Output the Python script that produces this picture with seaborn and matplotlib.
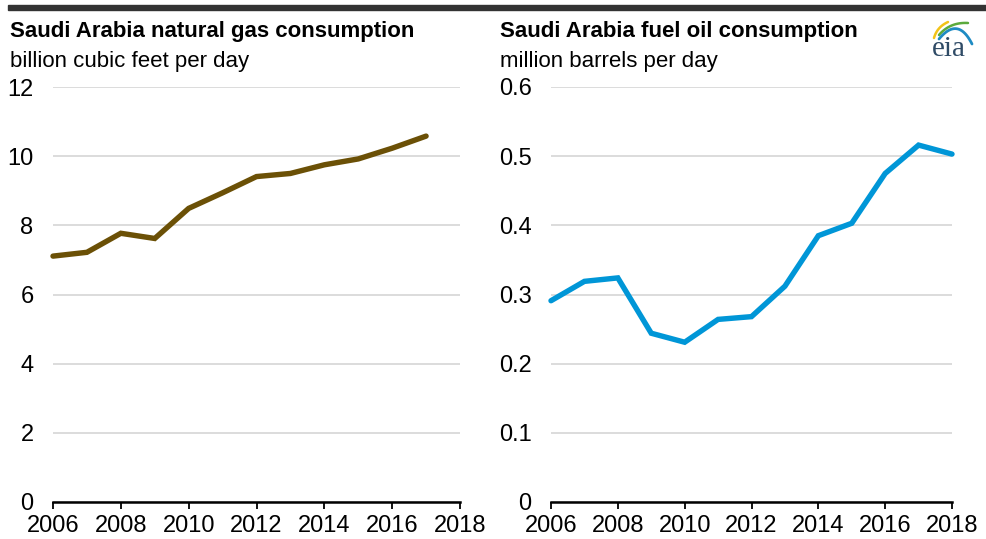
import numpy as np
import pandas as pd
import seaborn as sns
import matplotlib.pyplot as plt
from matplotlib.patches import Rectangle

# data
gas_years = [2006, 2007, 2008, 2009, 2010, 2011, 2012, 2013, 2014, 2015, 2016, 2017]
gas_bcfd = [7.11, 7.22, 7.77, 7.62, 8.49, 8.94, 9.41, 9.50, 9.75, 9.92, 10.23, 10.58]

oil_years = [2006, 2007, 2008, 2009, 2010, 2011, 2012, 2013, 2014, 2015, 2016, 2017, 2018]
oil_mbd = [0.291, 0.319, 0.324, 0.244, 0.231, 0.264, 0.268, 0.312, 0.385, 0.403, 0.475, 0.516, 0.503]

x_ticks = [2006, 2008, 2010, 2012, 2014, 2016, 2018]
gas_yticks = [0, 2, 4, 6, 8, 10, 12]
oil_yticks = [0, 0.1, 0.2, 0.3, 0.4, 0.5, 0.6]
oil_ylabels = ["0", "0.1", "0.2", "0.3", "0.4", "0.5", "0.6"]

sns.set_style("white")
plt.rcParams['font.family'] = ['Liberation Sans', 'DejaVu Sans']
plt.rcParams['text.color'] = 'black'

fig = plt.figure(figsize=(9.87, 5.39), dpi=100)
W, H = 987, 539

def px_axes(x0, x1, y0, y1):
    return fig.add_axes([x0 / W, 1 - y1 / H, (x1 - x0) / W, (y1 - y0) / H])

ax1 = px_axes(53, 460, 87, 502)
ax2 = px_axes(551, 952, 87, 502)

gas = pd.DataFrame({"year": gas_years, "value": gas_bcfd})
oil = pd.DataFrame({"year": oil_years, "value": oil_mbd})

sns.lineplot(data=gas, x="year", y="value", ax=ax1, color="#6B5006", linewidth=3.9,
             solid_capstyle="round", solid_joinstyle="miter")
sns.lineplot(data=oil, x="year", y="value", ax=ax2, color="#0096D7", linewidth=3.9,
             solid_capstyle="round", solid_joinstyle="miter")

for ax, yt, ylab in [(ax1, gas_yticks, [str(v) for v in gas_yticks]),
                     (ax2, oil_yticks, oil_ylabels)]:
    ax.set_xlim(2006, 2018)
    ax.set_ylim(yt[0], yt[-1])
    ax.set_xticks(x_ticks)
    ax.set_yticks(yt)
    ax.set_yticklabels(ylab)
    ax.set_xlabel("")
    ax.set_ylabel("")
    for s in ["top", "right", "left"]:
        ax.spines[s].set_visible(False)
    ax.spines["bottom"].set_color("black")
    ax.spines["bottom"].set_linewidth(1.8)
    ax.grid(axis="y", color="#d9d9d9", linewidth=1.3)
    ax.set_axisbelow(True)
    ax.tick_params(axis="x", length=5, width=1.3, color="black", pad=4, direction="out", bottom=True)
    ax.tick_params(axis="y", length=0, pad=14)
    for lab in ax.get_xticklabels() + ax.get_yticklabels():
        lab.set_fontsize(17)
        lab.set_color("black")
    for ln in ax.get_lines():
        ln.set_clip_on(False)

# titles
fig.text(10 / W, 1 - 37 / H, "Saudi Arabia natural gas consumption", fontsize=16,
         fontweight="bold", va="baseline", ha="left", color="black")
fig.text(10 / W, 1 - 67 / H, "billion cubic feet per day", fontsize=16,
         va="baseline", ha="left", color="black")
fig.text(500 / W, 1 - 37 / H, "Saudi Arabia fuel oil consumption", fontsize=16,
         fontweight="bold", va="baseline", ha="left", color="black")
fig.text(500 / W, 1 - 67 / H, "million barrels per day", fontsize=16,
         va="baseline", ha="left", color="black")

# top rule
fig.patches.append(Rectangle((8 / W, 1 - 10 / H), (W - 8) / W, 5 / H,
                             transform=fig.transFigure, color="#333333", zorder=5))

# eia logo, drawn in pixel coordinates of a small overlay axes
lax = fig.add_axes([915 / W, 1 - 66 / H, 70 / W, 50 / H])
lax.set_xlim(915, 985)
lax.set_ylim(66, 16)
lax.axis("off")
lax.text(949, 56, "eia", fontsize=21, family="Liberation Serif", color="#2F4B66",
         ha="center", va="baseline")

def swoosh(p0, p1, p2, color, lw):
    t = np.linspace(0, 1, 40)[:, None]
    pts = (1 - t) ** 2 * np.array(p0) + 2 * (1 - t) * t * np.array(p1) + t ** 2 * np.array(p2)
    lax.plot(pts[:, 0], pts[:, 1], color=color, lw=lw, solid_capstyle="round", clip_on=False)

swoosh((934, 38), (937, 27), (948, 22), "#F2C318", 1.8)
swoosh((939, 35), (950, 22), (968, 23), "#5BAA3C", 1.8)
swoosh((939, 39), (958, 16), (972, 44), "#1E8BC3", 2.0)

fig.savefig("out.png", dpi=100)
